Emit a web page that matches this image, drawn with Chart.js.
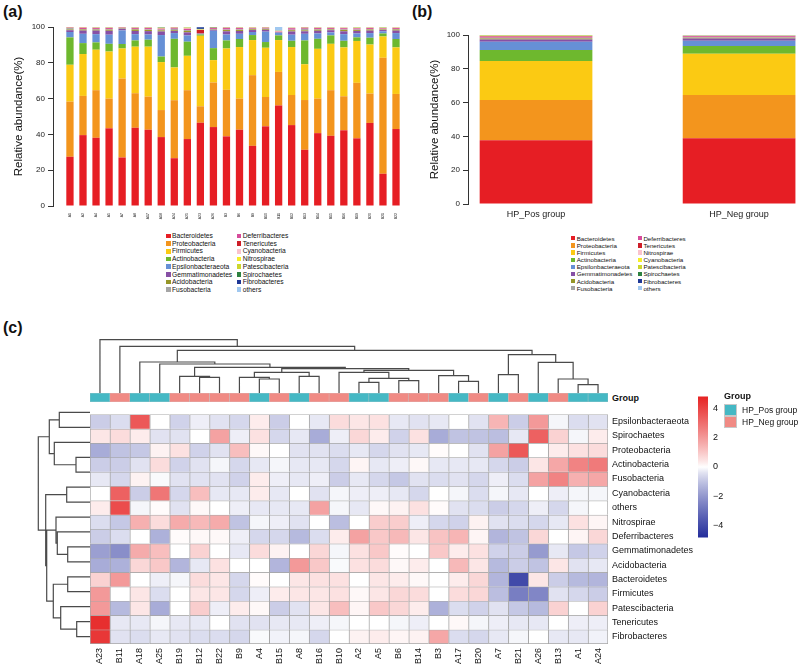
<!DOCTYPE html>
<html>
<head>
<meta charset="utf-8">
<script src="https://cdn.jsdelivr.net/npm/chart.js@4.4.1/dist/chart.umd.min.js"></script>
<style>
  body { margin: 0; background: #fff; }
  #figure {
    position: relative; width: 800px; height: 666px; overflow: hidden;
    font-family: "Liberation Sans", Arial, Helvetica, sans-serif; color: #111;
  }
  #figure canvas { position: absolute; }
  .panel-tag { position: absolute; font-weight: bold; font-size: 16px; line-height: 16px; }
  .legend { position: absolute; }
  .legend__item { position: absolute; white-space: nowrap; }
  .legend__box { position: absolute; left: 0; }
  .group-title { position: absolute; font-weight: bold; font-size: 9px; line-height: 10px; }
  .group-key { position: absolute; width: 13px; height: 12px; box-sizing: border-box; border: 1px solid #c8c8c8; }
  .group-label { position: absolute; font-size: 8.5px; line-height: 10px; }
</style>
</head>
<body>
<div id="figure">
  <div class="panel-tag" style="left:3px;top:4px">(a)</div>
  <div class="panel-tag" style="left:412px;top:4px">(b)</div>
  <div class="panel-tag" style="left:3px;top:320px">(c)</div>

  <canvas id="stack-samples" width="410" height="226" style="left:0;top:0"></canvas>
  <div class="legend" id="legend-samples" style="left:166px;top:232px"></div>

  <canvas id="stack-groups" width="390" height="226" style="left:410px;top:0"></canvas>
  <div class="legend" id="legend-groups" style="left:571px;top:234.7px"></div>

  <canvas id="col-dendro" width="518" height="55" style="left:90px;top:338px"></canvas>
  <canvas id="group-strip" width="518" height="9" style="left:90px;top:393px"></canvas>
  <canvas id="row-dendro" width="70" height="239" style="left:20px;top:405px"></canvas>
  <canvas id="heatmap" width="606" height="261" style="left:90px;top:405px"></canvas>
  <canvas id="colorbar" width="30" height="162" style="left:698px;top:386px"></canvas>

  <div class="group-title" style="left:612px;top:393px">Group</div>
  <div class="group-title" style="left:724px;top:391px">Group</div>
  <div class="group-key" style="left:724px;top:403.5px;background:#45b8c4"></div>
  <div class="group-key" style="left:724px;top:415.5px;background:#f08a84"></div>
  <div class="group-label" style="left:742px;top:404.5px">HP_Pos group</div>
  <div class="group-label" style="left:742px;top:416.5px">HP_Neg group</div>
</div>

<script>
// ---- panel (a): relative abundance per sample ----
const samplesA = ["A1", "A2", "A4", "A5", "A7", "A8", "A17", "A18", "A24", "A25", "A23", "A26",
  "B3", "B6", "B9", "B10", "B11", "B12", "B13", "B14", "B15", "B16", "B19", "B20", "B21", "B22"];

const taxaA = ["Bacteroidetes", "Proteobacteria", "Firmicutes", "Actinobacteria", "Epsilonbacteraeota",
  "Gemmatimonadetes", "Acidobacteria", "Fusobacteria", "Deferribacteres", "Tenericutes",
  "Cyanobacteria", "Nitrospirae", "Patescibacteria", "Spirochaetes", "Fibrobacteres", "others"];

// one row per sample, columns in taxaA order
const abundanceA = [
  [27.5, 30.8, 20.6, 15.3, 3.0, 1.0, 0.4, 0.8, 0.2, 0.1, 0.05, 0.1, 0.05, 0.05, 0, 0.05],
  [39.6, 21.9, 23.4, 6.1, 5.2, 1.8, 0.6, 0.3, 0.6, 0.1, 0.1, 0.1, 0.1, 0.05, 0, 0.05],
  [38.1, 26.6, 22.6, 4.1, 4.6, 2.0, 0.5, 0.4, 0.5, 0.1, 0.1, 0.1, 0.1, 0.1, 0, 0.1],
  [43.4, 16.6, 26.3, 4.3, 5.1, 2.2, 0.6, 0.3, 0.6, 0.1, 0.1, 0.1, 0.1, 0.1, 0, 0.1],
  [27.1, 44.1, 16.8, 2.5, 7.6, 0.9, 0.2, 0.2, 0.2, 0.1, 0.05, 0.05, 0.1, 0.05, 0, 0.05],
  [43.7, 19.3, 26.0, 3.5, 3.5, 1.8, 0.8, 0.3, 0.5, 0.1, 0.1, 0.1, 0.1, 0.1, 0, 0.1],
  [42.6, 18.5, 27.9, 3.9, 2.9, 1.9, 0.7, 0.3, 0.7, 0.1, 0.1, 0.1, 0.1, 0.1, 0, 0.1],
  [38.5, 15.1, 26.8, 3.1, 12.0, 2.0, 0.6, 0.4, 0.5, 0.1, 0.1, 0.2, 0.2, 0.2, 0, 0.2],
  [26.7, 32.4, 18.3, 16.0, 3.2, 1.2, 0.4, 0.8, 0.5, 0.1, 0.05, 0.1, 0.1, 0.05, 0, 0.1],
  [37.4, 27.3, 19.2, 7.9, 3.5, 1.7, 0.8, 0.5, 0.6, 0.1, 0.3, 0.3, 0.1, 0.1, 0, 0.2],
  [46.5, 9.2, 39.4, 0.7, 0.3, 0.2, 0.05, 0.05, 0.05, 1.9, 0.1, 0.1, 0.3, 0.1, 0.9, 0.15],
  [44.1, 24.9, 12.5, 6.7, 9.7, 0.5, 0.2, 0.3, 0.5, 0.1, 0.05, 0.05, 0.05, 0.3, 0, 0.05],
  [38.9, 26.0, 23.1, 4.5, 3.3, 1.8, 0.7, 0.3, 0.8, 0.1, 0.1, 0.1, 0.1, 0.05, 0.1, 0.05],
  [42.6, 17.4, 28.8, 4.5, 2.9, 1.6, 0.6, 0.3, 0.7, 0.1, 0.1, 0.1, 0.1, 0.1, 0, 0.1],
  [33.6, 39.5, 19.6, 2.8, 1.7, 1.1, 0.4, 0.3, 0.4, 0.1, 0.1, 0.05, 0.2, 0.05, 0, 0.1],
  [44.5, 16.4, 27.5, 3.2, 5.8, 1.0, 0.4, 0.3, 0.4, 0.1, 0.1, 0.05, 0.15, 0.05, 0, 0.05],
  [56.1, 18.8, 17.8, 2.6, 1.4, 0.3, 0.1, 0.1, 0.1, 0.1, 0.3, 0.1, 0.1, 0.05, 0, 2.05],
  [45.2, 16.8, 26.8, 3.5, 3.4, 1.8, 0.7, 0.3, 0.8, 0.1, 0.2, 0.1, 0.1, 0.05, 0, 0.15],
  [31.4, 27.8, 20.0, 13.3, 3.7, 1.4, 0.5, 0.9, 0.5, 0.1, 0.05, 0.05, 0.15, 0.05, 0, 0.1],
  [40.7, 19.3, 27.8, 5.6, 3.0, 1.5, 0.6, 0.3, 0.6, 0.1, 0.1, 0.1, 0.1, 0.05, 0, 0.15],
  [39.2, 25.5, 25.9, 4.7, 1.7, 1.2, 0.4, 0.3, 0.5, 0.1, 0.1, 0.05, 0.15, 0.05, 0, 0.15],
  [42.3, 19.0, 27.3, 3.7, 3.7, 1.6, 0.8, 0.3, 0.6, 0.1, 0.2, 0.1, 0.1, 0.05, 0, 0.15],
  [37.8, 31.0, 23.4, 2.0, 2.2, 1.4, 0.5, 0.3, 0.6, 0.1, 0.1, 0.2, 0.1, 0.1, 0, 0.2],
  [46.4, 16.4, 27.4, 3.8, 2.6, 1.4, 0.6, 0.2, 0.6, 0.1, 0.1, 0.1, 0.1, 0.05, 0, 0.15],
  [18.0, 64.8, 11.9, 1.7, 1.2, 0.7, 0.3, 0.2, 0.4, 0.1, 0.1, 0.1, 0.2, 0.1, 0, 0.2],
  [43.0, 19.6, 26.0, 4.7, 3.3, 1.4, 0.6, 0.3, 0.5, 0.1, 0.1, 0.1, 0.1, 0.05, 0, 0.05],
];

// ---- panel (b): group means ----
const groupsB = ["HP_Pos group", "HP_Neg group"];
const taxaB = ["Bacteroidetes", "Proteobacteria", "Firmicutes", "Actinobacteria", "Epsilonbacteraeota",
  "Gemmatimonadetes", "Acidobacteria", "Fusobacteria", "Deferribacteres", "Tenericutes",
  "Nitrospirae", "Cyanobacteria", "Patescibacteria", "Spirochaetes", "Fibrobacteres", "others"];
const posB = [37.7, 23.8, 23.1, 6.5, 4.9, 1.4, 0.6, 0.4, 0.6, 0.3, 0.1, 0.1, 0.2, 0.1, 0.1, 0.1];
const negB = [38.9, 25.6, 24.4, 4.6, 3.1, 1.3, 0.5, 0.3, 0.6, 0.1, 0.1, 0.1, 0.1, 0.1, 0, 0.2];

// fill colours by stack position (same in both panels)
const stackColors = ["rgb(230,30,36)", "rgb(243,149,29)", "rgb(251,202,19)", "rgb(110,184,46)",
  "rgb(102,144,214)", "rgb(135,80,165)", "rgb(150,150,40)", "rgb(165,165,165)",
  "rgb(214,75,155)", "rgb(205,30,40)", "rgb(250,195,205)", "rgb(246,238,40)",
  "rgb(205,215,45)", "rgb(45,130,65)", "rgb(30,55,150)", "rgb(160,200,240)"];

// ---- panel (c): z-scored heatmap ----
const heatSamples = ["A23", "B11", "A18", "A25", "B19", "B12", "B22", "B9", "A4", "B15", "A8", "B16", "B10",
  "A2", "A5", "B6", "B14", "B3", "A17", "B20", "A7", "B21", "A26", "B13", "A1", "A24"];
const heatGroups = ["Pos", "Neg", "Pos", "Pos", "Neg", "Neg", "Neg", "Neg", "Pos", "Neg", "Pos", "Neg", "Neg",
  "Pos", "Pos", "Neg", "Neg", "Neg", "Pos", "Neg", "Pos", "Neg", "Pos", "Neg", "Pos", "Pos"];
const heatTaxa = ["Epsilonbacteraeota", "Spirochaetes", "Proteobacteria", "Actinobacteria", "Fusobacteria",
  "Cyanobacteria", "others", "Nitrospirae", "Deferribacteres", "Gemmatimonadetes", "Acidobacteria",
  "Bacteroidetes", "Firmicutes", "Patescibacteria", "Tenericutes", "Fibrobacteres"];

// one row per taxon, columns in heatSamples order
const zScores = [
  [-0.8, -0.5, 3.5, 0, -0.7, -0.2, -0.4, -0.6, 0.3, -0.8, 0, -0.3, 0.6, 0.4, 0.5, -0.3, -0.4, -0.3, 0, -0.4, 1.4, -0.8, 2.0, -0.1, -0.5, -0.4],
  [0.4, 0.6, 0.3, -0.4, -0.4, 0, 1.8, -0.2, 0.5, -0.6, -0.3, -1.5, -0.2, 0.7, 0.3, -0.7, 0.5, -1.5, -1.0, -1.0, -1.1, -0.3, 3.3, 0.8, -0.1, 0.3],
  [-1.5, -1.0, -0.9, 0.2, 0.5, -0.7, -0.4, 1.2, 0.1, 0, -0.4, -0.4, -0.5, -0.3, -0.6, -0.4, -0.3, 0.05, 0, -0.4, 1.8, 3.5, 0, 0.3, 0.5, 0.6],
  [-0.8, -0.8, -0.4, 0.6, -0.7, -0.4, -0.1, -0.6, -0.3, -0.1, -0.3, -0.3, -0.6, 0.15, -0.3, -0.2, 0.1, -0.3, -0.3, -0.3, -0.6, -0.8, 0.4, 1.7, 2.5, 2.7],
  [-0.3, -0.6, 0.2, -0.05, -0.4, -0.4, -0.4, -0.7, 0.3, -0.2, -0.3, -0.2, -0.8, -0.3, -0.6, -0.9, -0.4, -0.5, -0.4, -0.6, -0.2, -0.5, 1.8, 2.5, 1.5, 1.7],
  [0, 3.3, -0.8, 2.8, -0.6, 1.2, -0.3, -0.3, 0.3, -0.3, 0, -0.4, -0.1, -0.2, -0.2, -0.3, -0.6, 0, -0.1, -0.5, -0.1, -0.3, 0, -0.2, -0.1, -0.1],
  [0.3, 3.8, -0.1, 0.05, -0.4, 0.1, 0, -0.2, -0.3, -0.3, -0.3, 1.8, -0.1, -0.3, 0.1, 0.2, 0.5, 0.05, -0.4, -0.5, -0.8, -0.6, -0.2, -0.6, -0.1, 0],
  [-0.5, -0.9, 1.5, 0.6, 1.6, 1.3, 1.6, -1.0, -0.1, -0.2, -0.4, 0, -1.1, 0, 0.9, 0.9, -0.2, -0.6, -0.7, 0.2, -0.4, -0.5, -0.6, -0.3, 0.5, 0.15],
  [-0.8, -0.5, 0, -1.4, 0.05, 0.1, 0.1, -0.2, -0.6, -0.6, -1.2, -0.5, 0.3, 1.8, 1.0, 1.3, 0.4, 1.1, 1.4, 0.15, -1.3, -1.0, 0.7, 0, 0.15, 0.7],
  [-1.8, -2.2, 1.6, 1.2, 0, 0.8, 0, -0.3, 0.6, 0.2, 0, 0.7, -0.1, 0.5, 1.0, 0.05, 0, 1.0, 0.3, 0.5, -0.7, -0.8, -1.9, -0.3, -0.9, -0.7],
  [-1.5, -1.4, 0.7, 1.0, -1.3, -0.3, 0.5, 0, 0, -1.3, 2.0, 1.0, -0.05, 0.5, 0.6, 0.1, 0.3, 0, 1.3, 0.4, -1.2, -0.8, -1.0, 0.4, -0.4, -0.3],
  [0.8, 2.0, 0, -0.2, -0.1, 0.6, 0.4, -0.6, 0.05, 0, 0.4, 0.5, 0.5, 0, 0.4, 0.3, 0.1, 0, 0.3, 0.7, -1.3, -4.0, 0.4, -0.8, -1.2, -1.3],
  [2.0, 0, 0.4, -0.5, 0, 0.4, 0.4, -0.6, -0.2, 0.3, 0.4, 0.4, 0.5, 0.1, 0.4, 0.7, 0.6, 0, 0.6, 0.7, -1.1, -2.6, -2.4, -0.4, -0.6, -0.8],
  [2.0, -1.2, 0.4, -1.5, 0, 0.9, -0.2, 0.3, 0.1, -0.8, -0.4, 0.4, 1.2, 0.15, 1.0, 0.7, 0.3, -1.4, -0.5, -0.7, -0.4, -0.9, -1.2, 0.8, 0, 0.8],
  [4.5, -0.3, -0.3, -0.1, -0.3, -0.3, 0, -0.4, -0.4, -0.3, -0.3, -0.2, -0.1, 0, 0, -0.1, -0.2, 0, 0.1, -0.1, -0.2, -0.3, -0.3, 0, -0.2, -0.2],
  [4.3, -0.4, -0.5, -0.3, -0.4, -0.5, -0.5, -0.6, -0.05, -0.15, -0.1, -0.6, 0, 0.2, 0.3, 0.15, 0.2, 1.7, -0.5, -0.6, -0.3, -0.1, 0, -0.3, -0.3, -0.15],
];

// clustering trees as [height, left, right]
const colTree = [53.3, "A23", [46.7, "B11", [42.7,
  [31, "A18", [29, "A25", [25.7,
    [16.7, "B19", [15.7, "B12", "B22"]],
    [24.3,
      [20.7, [15.7, "B9", [14, "A4", "B15"]], [16.7, "A8", "B16"]],
      [22.7,
        [20.7, "B10", [14.7, [10.7, "A2", "A5"], [12.3, "B6", "B14"]]],
        [17.3, "B3", [11.7, "A17", "B20"]]]]]]],
  [38.3, [18.3, "A7", "B21"], [30.7, "A26", [14, "B13", [8.3, "A1", "A24"]]]]]]];

const rowTree = [51.7,
  [40.7, [30.7, "Epsilonbacteraeota", "Spirochaetes"],
    [35.7, "Proteobacteria", [14, "Actinobacteria", "Fusobacteria"]]],
  [44.3, [23.3, "Cyanobacteria", "others"],
    [43.3,
      [34, "Nitrospirae", [32.7, "Deferribacteres", [22.3, "Gemmatimonadetes", "Acidobacteria"]]],
      [36.7, [22.3, "Bacteroidetes", "Firmicutes"],
        [29.3, "Patescibacteria", [13.3, "Tenericutes", "Fibrobacteres"]]]]]];

const colorMin = -4.8;
const colorMax = 4.8;
const groupColors = { Pos: "#45b8c4", Neg: "#f08a84" };

// ---------------------------------------------------------------
const FONT = '"Liberation Sans", Arial, Helvetica, sans-serif';
Chart.defaults.font.family = FONT;
Chart.defaults.color = "#111";
Chart.defaults.animation = false;
Chart.defaults.plugins.legend.display = false;
Chart.defaults.plugins.tooltip.enabled = false;

const lowColor = [35, 45, 155];
const highColor = [230, 35, 35];

function zColor(z) {
  let end, t;
  if (z >= 0) {
    end = highColor;
    t = Math.pow(Math.min(z / colorMax, 1), 0.88);
  } else {
    // blue side of the key is a bit steeper near white
    end = lowColor;
    t = Math.pow(Math.min(z / colorMin, 1), 0.8);
  }
  const c = end.map((v) => Math.round(255 + (v - 255) * t));
  return `rgb(${c[0]},${c[1]},${c[2]})`;
}

function buildLegend(id, names, o) {
  const el = document.getElementById(id);
  names.forEach((name, k) => {
    const item = document.createElement("div");
    item.className = "legend__item";
    item.style.left = Math.floor(k / 8) * o.colGap + "px";
    item.style.top = (k % 8) * o.rowGap + "px";
    item.style.fontSize = o.font + "px";
    item.style.lineHeight = o.rowGap + "px";
    item.style.paddingLeft = o.textGap + "px";
    item.innerHTML = `<span class="legend__box" style="background:${stackColors[k]};width:${o.box}px;height:${o.box}px;top:${(o.rowGap - o.box) / 2}px"></span>${name}`;
    el.appendChild(item);
  });
}

function yAbundance(width, titlePad) {
  return {
    stacked: true,
    min: 0,
    max: 100,
    ticks: { stepSize: 20, padding: 3, font: { size: 8 }, color: "#222" },
    grid: { drawOnChartArea: false, drawTicks: true, tickLength: 5, color: "#333" },
    border: { display: true, color: "#333" },
    title: { display: true, text: "Relative abundance(%)", font: { size: 11.5 }, padding: { top: titlePad }, color: "#111" },
    afterFit: (axis) => { axis.width = width; },
  };
}

// (a)
new Chart(document.getElementById("stack-samples"), {
  type: "bar",
  data: {
    datasets: taxaA.map((taxon, k) => ({
      label: taxon,
      data: samplesA.map((s, i) => ({ x: i, y: abundanceA[i][k] })),
      backgroundColor: stackColors[k],
      borderWidth: 0,
      barPercentage: 0.56,
      categoryPercentage: 1,
    })),
  },
  options: {
    responsive: false,
    devicePixelRatio: 1,
    layout: { padding: { top: 27, right: 5 } },
    scales: {
      x: {
        type: "linear",
        stacked: true,
        offset: false,
        min: -1.3,
        max: 25.69,
        grid: { display: false, drawTicks: false },
        border: { display: false },
        afterBuildTicks: (axis) => { axis.ticks = samplesA.map((s, i) => ({ value: i })); },
        ticks: { autoSkip: false, minRotation: 90, maxRotation: 90, padding: 7, font: { size: 3.5 }, callback: (v) => samplesA[v] },
        afterFit: (axis) => { axis.height = 20; },
      },
      y: yAbundance(53, 12),
    },
  },
});
buildLegend("legend-samples", taxaA, { colGap: 70.7, rowGap: 7.7, box: 4.7, textGap: 6, font: 6.7 });

// (b)
new Chart(document.getElementById("stack-groups"), {
  type: "bar",
  data: {
    datasets: taxaB.map((taxon, k) => ({
      label: taxon,
      data: [{ x: 0, y: posB[k] }, { x: 1, y: negB[k] }],
      backgroundColor: stackColors[k],
      borderWidth: 0,
      barPercentage: 0.555,
      categoryPercentage: 1,
    })),
  },
  options: {
    responsive: false,
    devicePixelRatio: 1,
    layout: { padding: { top: 35 } },
    scales: {
      x: {
        type: "linear",
        stacked: true,
        offset: false,
        min: -0.335,
        max: 1.3,
        grid: { display: false, drawTicks: false },
        border: { display: false },
        afterBuildTicks: (axis) => { axis.ticks = groupsB.map((g, i) => ({ value: i })); },
        ticks: { autoSkip: false, maxRotation: 0, padding: 5, font: { size: 9 }, color: "#222", callback: (v) => groupsB[v] },
        afterFit: (axis) => { axis.height = 22; },
      },
      y: yAbundance(58, 18),
    },
  },
});
buildLegend("legend-groups", taxaB, { colGap: 66.7, rowGap: 7.14, box: 4.3, textGap: 5.7, font: 6.2 });

// (c) dendrograms
function dendroPath(tree, leafPos) {
  const pts = [];
  function walk(node) {
    if (typeof node === "string") return { pos: leafPos(node), h: 0 };
    const [h, left, right] = node;
    const a = walk(left);
    const b = walk(right);
    pts.push([a.pos, a.h], [a.pos, h], [b.pos, h], [b.pos, b.h], null);
    return { pos: (a.pos + b.pos) / 2, h };
  }
  walk(tree);
  return pts;
}

function dendroChart(id, points, xScale, yScale) {
  return new Chart(document.getElementById(id), {
    type: "scatter",
    data: {
      datasets: [{
        data: points,
        showLine: true,
        spanGaps: false,
        pointRadius: 0,
        borderColor: "#4a4a4a",
        borderWidth: 1.2,
        clip: false,
      }],
    },
    options: {
      responsive: false,
      devicePixelRatio: 1,
      scales: {
        x: Object.assign({ type: "linear", display: false }, xScale),
        y: Object.assign({ type: "linear", display: false }, yScale),
      },
    },
  });
}

dendroChart("col-dendro",
  dendroPath(colTree, (n) => heatSamples.indexOf(n)).map((p) => (p ? { x: p[0], y: p[1] } : { x: 0, y: null })),
  { min: -0.5, max: 25.5 }, { min: 0, max: 55 });

dendroChart("row-dendro",
  dendroPath(rowTree, (n) => heatTaxa.indexOf(n)).map((p) => (p ? { x: p[1], y: p[0] } : { x: null, y: 0 })),
  { min: 0, max: 70, reverse: true }, { min: -0.5, max: 15.5, reverse: true });

// (c) group annotation strip
new Chart(document.getElementById("group-strip"), {
  type: "bar",
  data: {
    labels: heatSamples,
    datasets: [{
      data: heatSamples.map(() => 1),
      backgroundColor: heatGroups.map((g) => groupColors[g]),
      borderColor: "#c0c0c0",
      borderWidth: 0.5,
      borderSkipped: false,
      barPercentage: 1,
      categoryPercentage: 1,
    }],
  },
  options: {
    responsive: false,
    devicePixelRatio: 1,
    scales: { x: { display: false }, y: { display: false, min: 0, max: 1 } },
  },
});

// (c) heatmap body
const lastCol = heatSamples.length - 1;
const lastRow = heatTaxa.length - 1;
new Chart(document.getElementById("heatmap"), {
  type: "bar",
  data: {
    labels: heatSamples,
    datasets: heatTaxa.map((taxon, r) => ({
      label: taxon,
      data: heatSamples.map(() => 1),
      backgroundColor: zScores[r].map(zColor),
      borderColor: "#a6a6a6",
      borderWidth: (ctx) => ({ top: 1, left: 1, right: ctx.dataIndex === lastCol ? 1 : 0, bottom: r === lastRow ? 1 : 0 }),
      borderSkipped: false,
      barPercentage: 1,
      categoryPercentage: 1,
    })),
  },
  options: {
    responsive: false,
    devicePixelRatio: 1,
    scales: {
      x: {
        stacked: true,
        grid: { display: false, drawTicks: false },
        border: { display: false },
        ticks: { autoSkip: false, minRotation: 90, maxRotation: 90, padding: 4, font: { size: 9 } },
        afterFit: (axis) => { axis.height = 22; },
      },
      y: {
        stacked: true,
        position: "right",
        min: 0,
        max: heatTaxa.length,
        reverse: true,
        grid: { display: false, drawTicks: false },
        border: { display: false },
        afterBuildTicks: (axis) => { axis.ticks = heatTaxa.map((t, i) => ({ value: i + 0.5 })); },
        ticks: { autoSkip: false, padding: 4, font: { size: 9 }, callback: (v) => heatTaxa[Math.floor(v)] },
        afterFit: (axis) => { axis.width = 88; },
      },
    },
  },
});

// (c) colour key
function colorbarFill(context) {
  const { chart } = context;
  const { ctx, chartArea } = chart;
  if (!chartArea) return "#fff";
  const g = ctx.createLinearGradient(0, chartArea.bottom, 0, chartArea.top);
  for (let s = 0; s <= 24; s++) {
    const v = colorMin + (colorMax - colorMin) * s / 24;
    g.addColorStop(s / 24, zColor(v));
  }
  return g;
}

new Chart(document.getElementById("colorbar"), {
  type: "bar",
  data: {
    labels: [""],
    datasets: [{
      data: [[colorMin, colorMax]],
      backgroundColor: colorbarFill,
      borderWidth: 0,
      barPercentage: 1,
      categoryPercentage: 1,
    }],
  },
  options: {
    responsive: false,
    devicePixelRatio: 1,
    layout: { padding: { top: 7, bottom: 6 } },
    scales: {
      x: { display: false },
      y: {
        position: "right",
        min: colorMin,
        max: colorMax,
        grid: { display: false, drawTicks: false },
        border: { display: false },
        afterBuildTicks: (axis) => { axis.ticks = [4, 2, 0, -2, -4].map((v) => ({ value: v })); },
        ticks: { padding: 5, font: { size: 9 }, callback: (v) => (v < 0 ? "\u2212" + Math.abs(v) : String(v)) },
        afterFit: (axis) => { axis.width = 20; },
      },
    },
  },
});
</script>
</body>
</html>
